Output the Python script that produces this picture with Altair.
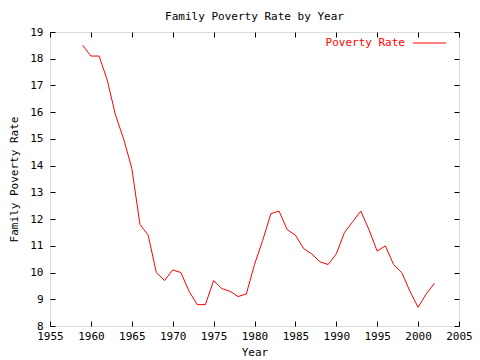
import altair as alt
import pandas as pd

years = list(range(1959, 2003))
rates = [18.5, 18.1, 18.1, 17.2, 15.9, 15.0, 13.9, 11.8, 11.4, 10.0,
         9.7, 10.1, 10.0, 9.3, 8.8, 8.8, 9.7, 9.4, 9.3, 9.1,
         9.2, 10.3, 11.2, 12.2, 12.3, 11.6, 11.4, 10.9, 10.7, 10.4,
         10.3, 10.7, 11.5, 11.9, 12.3, 11.6, 10.8, 11.0, 10.3, 10.0,
         9.3, 8.7, 9.2, 9.6]
x_ticks = list(range(1955, 2006, 5))
y_ticks = list(range(8, 20))

df = pd.DataFrame({"year": years, "rate": rates})

FONT = "DejaVu Sans Mono"
FS = 11

xs = alt.Scale(domain=[1955, 2005], nice=False, zero=False)
ys = alt.Scale(domain=[8, 19], nice=False, zero=False)

common = dict(domain=False, grid=False, tickSize=5, offset=-5, tickColor="black",
              tickWidth=1, labelFont=FONT, labelFontSize=FS, labelColor="black",
              labelFlush=False, labelOverlap=False, labelBound=False,
              titleFont=FONT, titleFontSize=FS, titleFontWeight="normal", titleColor="black")

base = alt.Chart(df)

line = base.mark_line(color="red", strokeWidth=1).encode(
    x=alt.X("year:Q", scale=xs, title="Year",
            axis=alt.Axis(values=x_ticks, format="d", labelPadding=4, titlePadding=5, **common)),
    y=alt.Y("rate:Q", scale=ys, title="Family Poverty Rate",
            axis=alt.Axis(values=y_ticks, format="d", labelPadding=7, titlePadding=10, **common)),
)

mirror = base.mark_line(opacity=0).encode(
    x=alt.X("year:Q", scale=xs,
            axis=alt.Axis(orient="top", values=x_ticks, labels=False, title=None,
                          domain=False, grid=False, tickSize=5, offset=-5, tickColor="black")),
    y=alt.Y("rate:Q", scale=ys,
            axis=alt.Axis(orient="right", values=y_ticks, labels=False, title=None,
                          domain=False, grid=False, tickSize=5, offset=-5, tickColor="black")),
)

legend_text = alt.Chart(pd.DataFrame({"t": ["Poverty Rate"]})).mark_text(
    align="right", baseline="middle", font=FONT, fontSize=FS, color="red"
).encode(text="t:N", x=alt.value(355), y=alt.value(11))

legend_line = alt.Chart(pd.DataFrame({"t": ["Poverty Rate"]})).mark_rule(
    color="red", strokeWidth=1
).encode(x=alt.value(363), x2=alt.value(396), y=alt.value(11))

chart = alt.layer(line, mirror, legend_text, legend_line).resolve_axis(
    x="independent", y="independent"
).properties(
    width=409, height=294,
    title=alt.Title("Family Poverty Rate by Year", font=FONT, fontSize=FS,
                    fontWeight="normal", color="black", offset=4),
    autosize=alt.AutoSizeParams(type="none"),
    padding={"left": 42, "top": 24, "right": 13, "bottom": 36},
).configure_view(stroke="black", strokeWidth=1).configure(background="white")

chart.save("out.html", embed_options={"renderer": "svg", "actions": False})
